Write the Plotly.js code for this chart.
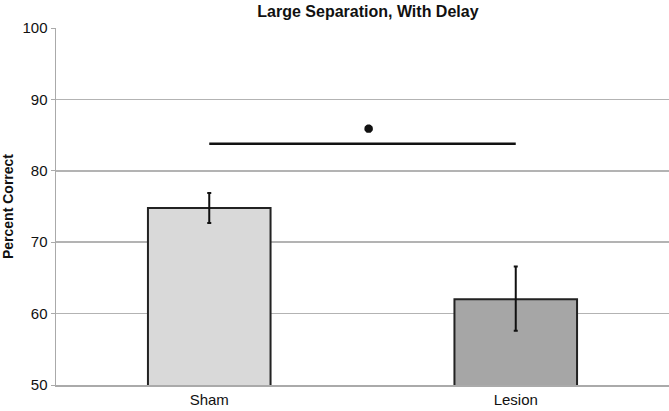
<!DOCTYPE html>
<html>
<head>
<meta charset="utf-8">
<script src="https://cdn.plot.ly/plotly-3.0.1.min.js"></script>
<style>
  html, body { margin: 0; padding: 0; background: #fff; }
  #chart { width: 669px; height: 411px; }
</style>
</head>
<body>
<div id="chart"></div>
<script>
// groups and values
const groups = ["Sham", "Lesion"];
const percentCorrect = [74.8, 62.0];
const errPlus = [2.1, 4.6];
const errMinus = [2.1, 4.4];
const barColors = ["#d9d9d9", "#a6a6a6"];

// significance bracket
const sigX = ["Sham", "Lesion"];
const sigY = [83.8, 83.8];
const starY = [85.9];

const traces = [
  {
    x: groups,
    y: percentCorrect,
    type: "bar",
    width: 0.4,
    marker: { color: barColors, line: { color: "#222", width: 2 } },
    error_y: {
      type: "data",
      symmetric: false,
      array: errPlus,
      arrayminus: errMinus,
      color: "#111",
      thickness: 2,
      width: 2
    },
    hoverinfo: "skip"
  },
  {
    x: sigX,
    y: sigY,
    type: "scatter",
    mode: "lines",
    line: { color: "#111", width: 2.5 },
    hoverinfo: "skip"
  },
  {
    x: [0.51],
    y: starY,
    xaxis: "x2",
    type: "scatter",
    mode: "markers",
    marker: { symbol: "asterisk-open", size: 7, color: "#111", line: { color: "#111", width: 3 } },
    hoverinfo: "skip"
  }
];

const layout = {
  width: 669,
  height: 411,
  margin: { l: 56, r: 0, t: 28, b: 26 },
  paper_bgcolor: "#fff",
  plot_bgcolor: "#fff",
  showlegend: false,
  font: { family: "Liberation Sans, Arial, sans-serif", color: "#111", size: 14 },
  title: {
    text: "<b>Large Separation, With Delay</b>",
    font: { size: 16 },
    x: 0.55,
    xanchor: "center",
    y: 0.972,
    yanchor: "middle"
  },
  xaxis: {
    type: "category",
    showgrid: false,
    showline: true,
    linecolor: "#aaa",
    linewidth: 1.5,
    ticks: "",
    tickfont: { size: 15 },
    zeroline: false
  },
  xaxis2: {
    overlaying: "x",
    range: [0, 1],
    visible: false
  },
  yaxis: {
    range: [50, 100],
    tickvals: [50, 60, 70, 80, 90, 100],
    showgrid: true,
    gridcolor: "#b3b3b3",
    gridwidth: 1.5,
    showline: true,
    linecolor: "#aaa",
    linewidth: 1.5,
    ticks: "outside",
    ticklen: 4,
    tickcolor: "#aaa",
    tickfont: { size: 15 },
    zeroline: false,
    title: { text: "<b>Percent Correct</b>", font: { size: 14 }, standoff: 8 }
  }
};

Plotly.newPlot("chart", traces, layout, { displayModeBar: false, staticPlot: true });
</script>
</body>
</html>
